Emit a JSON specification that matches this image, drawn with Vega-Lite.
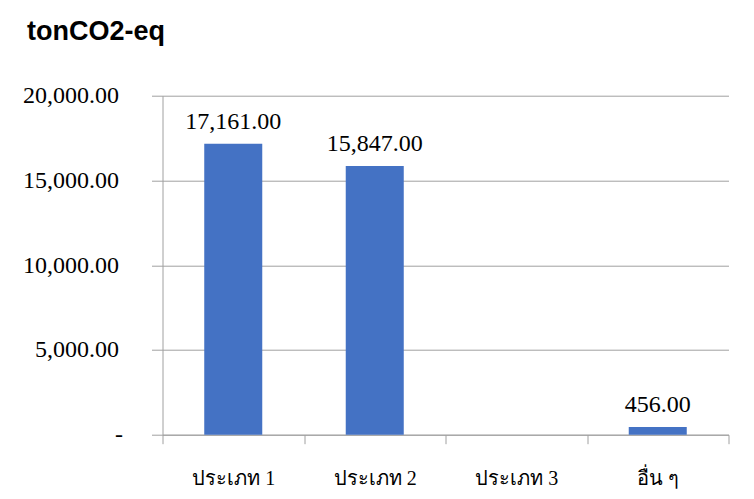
{
  "$schema": "https://vega.github.io/schema/vega-lite/v6.json",
  "autosize": {"type": "none"},
  "width": 566,
  "height": 339,
  "padding": {"left": 162.5, "top": 95.7, "right": 25.5, "bottom": 64.3},
  "background": "white",
  "title": {
    "text": "tonCO2-eq",
    "anchor": "start",
    "frame": "group",
    "font": "Liberation Sans",
    "fontWeight": "bold",
    "fontSize": 27,
    "color": "#000000",
    "baseline": "alphabetic",
    "offset": 0,
    "dx": -135.5,
    "dy": -17
  },
  "data": {
    "values": [
      {"category": "ประเภท 1", "value": 17161},
      {"category": "ประเภท 2", "value": 15847},
      {"category": "ประเภท 3", "value": 0},
      {"category": "อื่น ๆ", "value": 456}
    ]
  },
  "encoding": {
    "x": {
      "field": "category",
      "type": "nominal",
      "sort": null,
      "scale": {"paddingInner": 0, "paddingOuter": 0},
      "axis": {
        "title": null,
        "labelAngle": 0,
        "tickBand": "extent",
        "grid": false,
        "domainColor": "#A0A0A0",
        "tickColor": "#A0A0A0",
        "tickSize": 9,
        "labelFont": "Liberation Serif",
        "labelFontSize": 20,
        "labelColor": "#000000",
        "labelBaseline": "alphabetic",
        "labelPadding": 41
      }
    },
    "y": {
      "field": "value",
      "type": "quantitative",
      "scale": {"domain": [0, 20000], "nice": false},
      "axis": {
        "title": null,
        "values": [0, 5000, 10000, 15000, 20000],
        "labelExpr": "datum.value == 0 ? '-' : format(datum.value, ',.2f')",
        "grid": true,
        "gridColor": "#A0A0A0",
        "domainColor": "#A0A0A0",
        "tickColor": "#A0A0A0",
        "tickSize": 11,
        "labelPadding": 33,
        "labelFont": "Liberation Serif",
        "labelFontSize": 24,
        "labelColor": "#000000",
        "labelAlign": {"condition": {"test": "datum.value == 0", "value": "center"}, "value": "right"},
        "encode": {
          "labels": {
            "update": {
              "dx": {"signal": "datum.value == 0 ? -15 : 0"}
            }
          }
        }
      }
    }
  },
  "layer": [
    {
      "mark": {"type": "bar", "color": "#4472C4", "width": {"band": 0.41}}
    },
    {
      "transform": [{"filter": "datum.value > 0"}],
      "mark": {
        "type": "text",
        "font": "Liberation Serif",
        "fontSize": 24,
        "baseline": "alphabetic",
        "dy": -15,
        "color": "#000000"
      },
      "encoding": {
        "text": {"field": "value", "type": "quantitative", "format": ",.2f"}
      }
    }
  ],
  "config": {
    "view": {"stroke": null}
  }
}
